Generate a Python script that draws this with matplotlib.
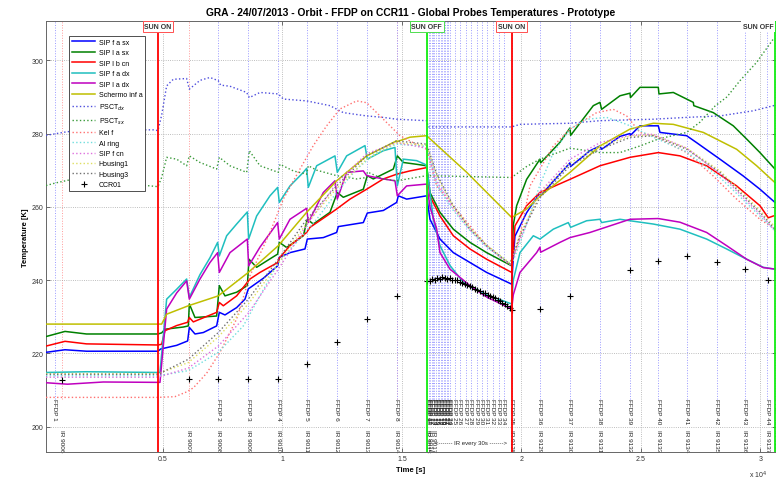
import matplotlib
matplotlib.use('Agg')
import matplotlib.pyplot as plt
import matplotlib.transforms as mtransforms

plt.rcParams['font.family'] = ['Liberation Sans', 'DejaVu Sans']

# time [s], temperature [K]
t_blue = [105, 900, 1800, 4790, 4900, 5572, 6032, 6102, 6339, 6688, 7245, 7357, 7594, 8082, 8431, 8570,
          9198, 9798, 9867, 10314, 10941, 11039, 11708, 12266, 12336, 13382, 13549, 14219, 14777, 14847,
          15195, 16032, 16171, 16590, 17148, 17845, 18542, 19589, 19658, 19728, 20216, 20774, 20802,
          21332, 22029, 22057, 22866, 23284, 23354, 24121, 24540, 24560, 24958, 25725, 25795, 26911,
          27330, 28305, 29282, 29979, 30607]
T_blue = [220.3, 221.0, 220.6, 220.6, 221.2, 222.2, 223.4, 227.1, 225.3, 225.7, 227.5, 231.2, 230.5, 232.5,
          234.8, 237.6, 240.5, 243.9, 246.2, 247.5, 248.5, 251.2, 251.6, 253.0, 254.6, 255.7, 258.3, 259.0,
          261.2, 263.0, 262.1, 263.0, 256.6, 251.2, 247.5, 244.8, 242.1, 238.9, 246.0, 252.0, 258.4, 263.9,
          263.0, 267.0, 272.0, 271.0, 275.3, 276.6, 275.7, 279.2, 280.0, 279.5, 282.1, 282.1, 280.3, 279.4,
          277.5, 273.0, 268.4, 264.8, 261.2]

t_green = [105, 900, 1800, 4790, 4944, 5084, 5851, 6060, 6102, 6339, 7245, 7357, 7594, 8082, 8529, 8598,
           8919, 9477, 9798, 9867, 10174, 10872, 11039, 11290, 11987, 12294, 12545, 13382, 13549, 13801,
           14637, 14805, 15056, 15614, 16032, 16171, 16590, 17148, 17845, 18542, 19589, 19658, 19798,
           20216, 20774, 20802, 21611, 22029, 22057, 23005, 23284, 23354, 24121, 24540, 24560, 24958,
           25725, 25753, 26353, 26911, 27190, 27210, 28026, 28863, 29421, 29979, 30607]
T_green = [224.6, 226.0, 225.3, 225.3, 225.6, 226.6, 227.2, 227.5, 233.5, 229.8, 230.2, 238.5, 235.7, 236.7,
           238.5, 245.7, 243.5, 245.8, 247.1, 250.3, 248.9, 252.1, 256.6, 255.3, 258.5, 263.9, 262.6, 264.8,
           268.5, 267.6, 270.3, 273.9, 272.1, 271.6, 271.2, 263.9, 258.5, 253.9, 250.3, 247.5, 243.9, 255.0,
           260.3, 267.5, 273.0, 272.0, 277.6, 281.5, 279.5, 287.6, 288.5, 286.6, 290.3, 291.0, 289.8, 292.6,
           292.6, 290.8, 291.2, 289.4, 288.5, 287.6, 285.7, 282.1, 278.5, 274.8, 270.3]

t_red = [105, 900, 1800, 4790, 4944, 5084, 5572, 6032, 6102, 6269, 7245, 7357, 7524, 8082, 8529, 8640,
         9059, 9798, 9867, 10314, 11011, 11151, 11848, 12266, 12824, 13522, 14219, 14777, 15335, 16032,
         16171, 16590, 17148, 17845, 18542, 19589, 19728, 20216, 20774, 22029, 23284, 24540, 25725,
         26632, 27748, 29003, 29979, 30328, 30537]
T_red = [222.0, 223.3, 222.6, 222.3, 222.5, 226.2, 227.6, 228.5, 229.8, 228.6, 231.2, 233.9, 233.0, 235.7,
         239.4, 240.3, 242.1, 244.8, 246.0, 249.4, 253.0, 254.4, 257.5, 259.4, 262.1, 264.8, 267.6, 268.9,
         269.8, 270.7, 262.9, 257.5, 252.1, 248.5, 245.7, 242.1, 254.8, 260.3, 263.9, 267.5, 271.2, 273.5,
         274.8, 273.9, 271.2, 265.7, 260.3, 257.0, 257.5]

t_cyan = [105, 1800, 4790, 4874, 5153, 5572, 5990, 6102, 6548, 6966, 7287, 7357, 7664, 8082, 8529, 8584,
          8919, 9477, 9798, 9867, 10314, 10872, 11011, 11081, 11430, 12196, 12294, 12685, 13452, 13549,
          14219, 14707, 14805, 15056, 15614, 15963, 16032, 16171, 16311, 16590, 17008, 17566, 18542,
          19589, 19658, 19937, 20495, 20774, 21332, 21960, 22057, 22727, 23284, 23354, 24121, 24540,
          25516, 26632, 27748, 28584, 29421, 30118, 30607]
T_cyan = [214.8, 215.0, 214.8, 214.8, 234.8, 237.5, 240.3, 235.3, 241.5, 246.1, 250.3, 246.6, 252.1, 255.3,
          258.6, 251.2, 257.5, 263.0, 265.3, 261.2, 265.7, 269.4, 270.5, 265.3, 271.2, 273.9, 269.4, 273.9,
          276.7, 273.0, 275.3, 276.2, 265.7, 273.0, 272.6, 271.6, 271.0, 264.0, 256.6, 249.4, 244.0, 239.4,
          236.0, 233.5, 240.0, 247.5, 252.1, 251.2, 253.9, 255.7, 254.4, 256.2, 256.6, 255.7, 256.6, 256.2,
          255.3, 253.9, 251.2, 248.5, 245.7, 243.5, 243.0]

t_magenta = [105, 1000, 2500, 4790, 4874, 5153, 5572, 5990, 6102, 6548, 6966, 7287, 7357, 7803, 8529, 8584,
             9059, 9798, 9867, 10314, 11011, 11081, 11708, 12196, 12294, 12685, 13382, 13522, 14219, 14707,
             14805, 15195, 16032, 16171, 16450, 16590, 17008, 17845, 18542, 19589, 19658, 19937, 20634,
             20774, 20802, 21611, 22029, 22866, 23284, 24121, 24540, 25725, 26632, 27748, 28584, 29421,
             30118, 30607]
T_magenta = [212.0, 211.6, 212.2, 212.1, 212.1, 232.1, 236.5, 239.8, 234.8, 240.3, 244.8, 247.5, 242.1, 247.5,
             251.2, 243.9, 249.0, 255.7, 251.2, 256.6, 259.6, 255.7, 263.9, 267.1, 262.1, 269.4, 269.8, 268.5,
             267.6, 267.1, 263.0, 265.7, 266.2, 260.0, 254.0, 247.5, 243.0, 238.5, 235.4, 232.1, 236.0, 242.1,
             247.5, 249.0, 247.6, 250.3, 251.6, 253.0, 253.9, 255.7, 256.6, 256.8, 255.8, 253.0, 249.4, 245.7,
             243.4, 243.0]

t_olive = [105, 4790, 4944, 5153, 6060, 7315, 8570, 9826, 11011, 12266, 13522, 14777, 14805, 15335, 16032,
           17710, 19589, 20216, 20774, 22029, 23284, 24540, 25516, 26353, 27608, 29003, 29840, 30607]
T_olive = [228.0, 228.0, 228.0, 230.7, 233.0, 235.7, 242.1, 249.4, 258.5, 267.1, 273.9, 278.0, 277.8, 279.0,
           279.4, 269.4, 257.1, 259.4, 262.9, 269.4, 276.6, 281.2, 282.8, 282.5, 280.3, 275.7, 271.2, 266.6]

t_psct_dx = [105, 1000, 2500, 4600, 4790, 4944, 5153, 5432, 5990, 6102, 6548, 6966, 7315, 7413, 7803, 8501,
             8612, 9059, 9826, 10035, 11011, 11987, 12545, 13522, 14219, 14777, 16032, 16102, 19589, 19937,
             22029, 23284, 25516, 26911, 28305, 29700, 30607]
T_psct_dx = [279.5, 280.5, 281.0, 281.0, 280.8, 285.0, 293.0, 294.8, 295.0, 292.1, 294.5, 295.3, 294.4, 293.2,
             292.9, 291.2, 289.8, 291.2, 290.8, 289.4, 288.9, 287.6, 285.7, 284.8, 284.4, 283.9, 283.5, 281.8,
             281.8, 282.5, 282.8, 283.5, 283.9, 284.4, 284.8, 286.2, 287.7]

t_psct_sx = [105, 500, 1200, 2500, 4000, 4790, 4944, 5153, 5572, 5990, 6102, 6548, 7245, 7357, 7803, 8501,
             8612, 9059, 9826, 9895, 10453, 11011, 11081, 11430, 12266, 13103, 13522, 13549, 14219, 14777,
             16032, 19589, 20216, 20774, 22029, 23284, 24121, 24958, 25725, 26911, 27470, 28100, 28600,
             29140, 29850, 30550]
T_psct_sx = [265.8, 266.5, 267.5, 267.0, 266.0, 265.5, 268.0, 273.5, 273.0, 271.2, 273.9, 272.1, 270.3, 273.5,
             271.2, 269.4, 275.3, 271.2, 269.4, 271.6, 269.8, 268.9, 271.2, 270.0, 268.5, 267.6, 268.0, 269.5,
             267.6, 267.1, 268.5, 268.0, 271.0, 273.0, 276.0, 274.8, 274.8, 276.6, 278.5, 280.3, 283.1, 287.5,
             290.0, 294.4, 299.5, 305.9]

t_kel = [105, 4790, 5500, 5990, 6269, 6827, 7385, 8082, 8640, 9477, 10035, 10732, 11290, 11848, 12406, 13103,
         13522, 14219, 14916, 15614, 16032, 16450, 17148, 17845, 18542, 19379, 19589, 19937, 20356, 21332,
         22029, 23145, 23842, 24400, 24958, 25516, 26911, 28026, 29003, 29979, 30607]
T_kel = [208.0, 208.0, 208.2, 209.5, 210.6, 214.6, 220.3, 229.4, 241.2, 253.0, 262.1, 270.3, 276.7, 282.1,
         286.7, 288.9, 288.4, 283.9, 279.4, 277.0, 275.7, 265.7, 260.3, 254.8, 249.4, 244.8, 244.0, 252.0,
         265.7, 276.6, 281.2, 285.7, 286.6, 284.8, 280.3, 279.4, 274.8, 268.4, 262.1, 256.6, 253.9]

t_al = [105, 4790, 6060, 7315, 8361, 9059, 9826, 10593, 11430, 12266, 13103, 13940, 14777, 16032, 16450,
        17148, 17845, 18542, 19589, 19937, 20774, 21332, 22029, 22727, 23563, 24400, 25516, 26911, 28305,
        29421, 30607]
T_al = [213.9, 213.9, 215.3, 220.3, 227.5, 235.7, 244.8, 250.3, 256.6, 263.9, 270.3, 274.8, 277.1, 276.5,
        266.0, 259.0, 253.5, 249.0, 244.3, 250.0, 266.0, 274.8, 281.2, 283.9, 284.4, 282.5, 279.0, 275.0,
        268.0, 261.0, 253.5]

t_sip_cn = [105, 4790, 6060, 7315, 8570, 9826, 11011, 12266, 13522, 14777, 16032, 16450, 17148, 17845, 18542,
            19519, 19937, 20774, 22029, 23284, 24540, 25516, 26911, 28305, 29282, 29979, 30607]
T_sip_cn = [213.5, 213.5, 216.0, 222.0, 231.0, 243.0, 255.0, 266.5, 274.5, 277.5, 276.0, 267.0, 259.5, 253.7,
            249.2, 244.2, 251.0, 264.0, 273.0, 277.5, 279.5, 279.8, 276.0, 269.0, 262.5, 258.0, 253.5]

t_housing1 = [105, 4790, 6060, 7315, 8570, 9826, 11011, 12266, 13522, 14777, 16032, 16450, 17148, 17845,
              18542, 19519, 19937, 20774, 22029, 23284, 24540, 25516, 26911, 28305, 29282, 29979, 30607]
T_housing1 = [214.5, 214.5, 217.5, 224.5, 233.5, 244.5, 255.5, 265.0, 273.0, 277.5, 276.8, 268.5, 260.0, 254.2,
              249.6, 244.6, 252.5, 263.5, 272.0, 276.5, 279.3, 279.6, 276.0, 269.8, 263.5, 259.0, 254.5]

t_housing3 = [105, 4790, 6060, 7315, 8570, 9826, 11011, 12266, 13522, 14777, 16032, 16450, 17148, 17845,
              18542, 19519, 19937, 20774, 22029, 23284, 24540, 25516, 26911, 28305, 29282, 29979, 30607]
T_housing3 = [214.3, 214.3, 218.4, 225.7, 234.8, 245.7, 256.6, 265.7, 273.9, 278.0, 277.1, 269.0, 260.3, 254.0,
              249.4, 244.4, 252.0, 262.5, 271.2, 275.7, 278.9, 279.4, 275.7, 269.4, 263.0, 258.5, 253.9]

t_ccr = [770, 6070, 7315, 8570, 9826, 11011, 12266, 13522, 14777, 16032,
         16171, 16270, 16381, 16480, 16590, 16690, 16799, 16900, 17008, 17110, 17218, 17320, 17427, 17530,
         17636, 17740, 17845, 17950, 18054, 18160, 18264, 18370, 18473, 18580, 18682, 18790, 18891, 19000,
         19100, 19200, 19310, 19410, 19519, 19589,
         20774, 22029, 24540, 25725, 26911, 28166, 29352, 30328]
T_ccr = [212.7, 213.0, 213.0, 213.0, 213.0, 217.1, 223.0, 229.4, 235.7, 239.8,
         239.8, 240.2, 240.0, 240.5, 240.4, 240.8, 240.6, 240.3, 240.5, 240.1, 240.1, 239.9, 239.6, 239.2,
         238.9, 238.7, 238.3, 238.1, 237.7, 237.2, 237.1, 236.6, 236.4, 236.0, 235.7, 235.4, 235.0, 234.6,
         234.3, 233.7, 233.4, 232.9, 232.3, 231.9,
         232.1, 235.7, 242.8, 245.3, 246.5, 245.0, 243.0, 240.1]

# events
sun_on = [4790, 19590]
sun_off = [16030, 30610]

ffdp_times = [480, 7315, 8570, 9826, 11011, 12266, 13522, 14777,
              16050, 16110, 16170, 16240, 16300, 16360, 16430, 16490, 16550, 16620, 16680, 16740, 16810,
              16870, 16930, 17000,
              17218, 17427, 17678, 17887, 18138, 18347, 18556, 18808, 19059, 19268, 19590,
              20774, 22029, 23284, 24540, 25725, 26911, 28166, 29352, 30276, 30610]
ffdp_labels = ['FFDP %d' % n for n in range(1, 46)]

ir_times = [770, 6070, 7315, 8570, 9826, 11011, 12266, 13522, 14777, 16050, 16170, 16300, 19590,
            20774, 22029, 23284, 24540, 25725, 26911, 28166, 29352, 30276, 30610]
ir_labels = ['IR 9006', 'IR 9007', 'IR 9008', 'IR 9009', 'IR 9010', 'IR 9011', 'IR 9012', 'IR 9013',
             'IR 9014', 'IR 9015', 'IR 9016', 'IR 9017', 'IR 9128', 'IR 9129', 'IR 9130', 'IR 9131',
             'IR 9132', 'IR 9133', 'IR 9134', 'IR 9135', 'IR 9136', 'IR 9137', 'IR 9138']
ir_line_times = [770, 6070, 14777]

series = [
    ('SIP f a sx', t_blue, T_blue, '#0000ff', '-', 1.1),
    ('SIP l a sx', t_green, T_green, '#008000', '-', 1.1),
    ('SIP l b cn', t_red, T_red, '#ff0000', '-', 1.1),
    ('SIP f a dx', t_cyan, T_cyan, '#1fbfbf', '-', 1.1),
    ('SIP l a dx', t_magenta, T_magenta, '#bf00bf', '-', 1.1),
    ('Schermo inf a', t_olive, T_olive, '#bfbf00', '-', 1.1),
    ('PSCT$_{dx}$', t_psct_dx, T_psct_dx, '#4d4ddd', ':', 1.0),
    ('PSCT$_{sx}$', t_psct_sx, T_psct_sx, '#3a9a3a', ':', 1.0),
    ('Kel f', t_kel, T_kel, '#ff7070', ':', 1.0),
    ('Al ring', t_al, T_al, '#70dede', ':', 1.0),
    ('SIP f cn', t_sip_cn, T_sip_cn, '#de70de', ':', 1.0),
    ('Housing1', t_housing1, T_housing1, '#dede60', ':', 1.0),
    ('Housing3', t_housing3, T_housing3, '#707070', ':', 1.0),
]

fig = plt.figure(figsize=(7.76, 4.81), dpi=100)
ax = fig.add_axes([46 / 776, 28 / 481, 730 / 776, 431 / 481])
ax.set_xlim(105, 30650)
ax.set_ylim(193.1, 310.7)

# marker lines for IR / FFDP acquisitions
ax.vlines(ir_line_times, 207.5, 311, colors='#ff9a9a', linestyles=':', linewidth=0.7, zorder=1)
ax.vlines(ffdp_times, 207.5, 311, colors='#9a9aff', linestyles=':', linewidth=0.7, zorder=1)

for name, t, T, c, ls, lw in series:
    ax.plot(t, T, color=c, linestyle=ls, linewidth=lw, label=name, zorder=3)
ax.plot(t_ccr, T_ccr, linestyle='none', marker='+', color='black', markersize=4, mew=0.8,
        label='CCR01', zorder=4)

for x in sun_on:
    ax.axvline(x, color='#ff0000', linewidth=1.3, zorder=5)
for x in sun_off:
    ax.axvline(x, color='#11ee11', linewidth=1.3, zorder=5)

trans = mtransforms.blended_transform_factory(ax.transData, ax.transAxes)
for x in sun_on:
    ax.annotate('SUN ON', xy=(x, 1), xycoords=trans, xytext=(0, -1.6), textcoords='offset points',
                ha='center', va='top', fontsize=5, fontweight='bold', color='#333333', zorder=6,
                bbox=dict(boxstyle='square,pad=0.25', fc='white', ec='#ff5050', lw=0.7))
ax.annotate('SUN OFF', xy=(sun_off[0], 1), xycoords=trans, xytext=(0, -1.6), textcoords='offset points',
            ha='center', va='top', fontsize=5, fontweight='bold', color='#333333', zorder=6,
            bbox=dict(boxstyle='square,pad=0.25', fc='white', ec='#50dd50', lw=0.7))
ax.annotate('SUN OFF', xy=(sun_off[1], 1), xycoords=trans, xytext=(-1, -1.6), textcoords='offset points',
            ha='right', va='top', fontsize=5, fontweight='bold', color='#333333', zorder=6,
            bbox=dict(boxstyle='square,pad=0.25', fc='white', ec='none'))

for x, s in zip(ffdp_times, ffdp_labels):
    ax.text(x, 207.8, s, rotation=270, ha='center', va='top', fontsize=4.6, color='#222222', zorder=2)
for x, s in zip(ir_times, ir_labels):
    ax.text(x, 199.3, s, rotation=270, ha='center', va='top', fontsize=4.6, color='#222222', zorder=2)
ax.text(17890, 195.8, '<------- IR every 30s ------->', ha='center', va='center', fontsize=4.3,
        color='#222222')

ax.set_xticks([5000, 10000, 15000, 20000, 25000, 30000])
ax.set_xticklabels(['0.5', '1', '1.5', '2', '2.5', '3'])
ax.set_yticks([200, 220, 240, 260, 280, 300])
ax.tick_params(direction='in', top=True, right=True, length=3, width=0.6, labelsize=5,
               labelcolor='#333333', color='#555555', pad=2)
ax.grid(True, linestyle=':', color='#a8a8a8', linewidth=0.6)
for sp in ax.spines.values():
    sp.set_color('#666666')
    sp.set_linewidth(0.7)

ax.set_xlabel('Time [s]', fontsize=5.5, fontweight='bold', labelpad=3)
ax.set_ylabel('Temperature [K]', fontsize=5.5, fontweight='bold', labelpad=2)
ax.set_title('GRA - 24/07/2013 - Orbit - FFDP on CCR11 - Global Probes Temperatures - Prototype',
             fontsize=7.4, fontweight='bold', pad=4)
fig.text(758 / 776, 1 - 475 / 481, 'x 10$^4$', fontsize=5, color='#333333', ha='center', va='center')

leg = ax.legend(loc='upper left', bbox_to_anchor=(0.0315, 0.965), fontsize=5, frameon=True,
                fancybox=False, framealpha=1, edgecolor='#333333', handlelength=3.4,
                labelspacing=0.5, borderpad=0.4, handletextpad=0.5, borderaxespad=0)
leg.get_frame().set_linewidth(0.6)
leg.set_zorder(10)

fig.savefig('out.png', dpi=100)
